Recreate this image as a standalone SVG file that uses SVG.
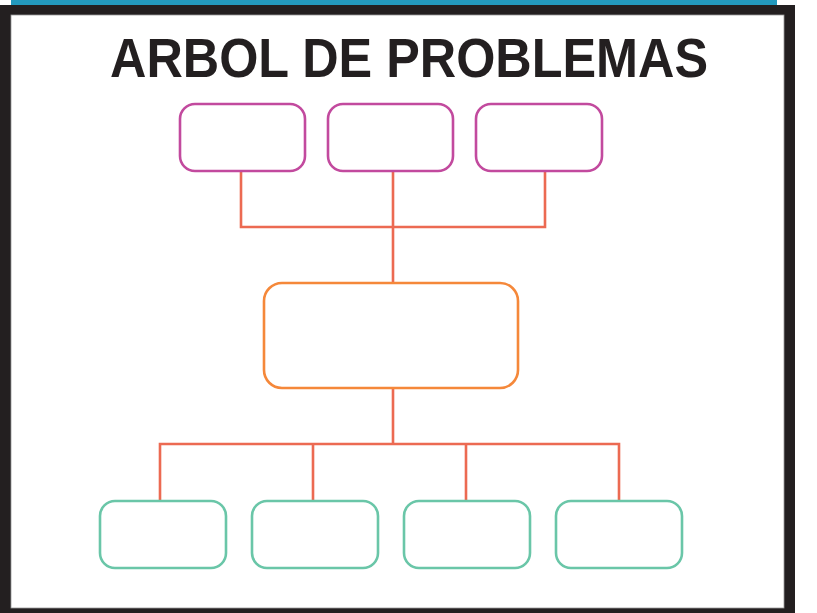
<svg xmlns="http://www.w3.org/2000/svg" width="817" height="613" viewBox="0 0 817 613">
<style>
.top{fill:#fff;stroke:#c24a9e;stroke-width:2.6}
.mid{fill:#fff;stroke:#f5883a;stroke-width:2.6}
.bot{fill:#fff;stroke:#6ac6a8;stroke-width:2.6}
.con{fill:none;stroke:#ec6a52;stroke-width:2.6;stroke-linejoin:miter}
.title{font-family:"Liberation Sans",Arial,sans-serif;font-weight:bold;fill:#231f20}
</style>
<rect x="0" y="0" width="817" height="613" fill="#fff"/>
<rect x="11" y="0" width="766" height="6" fill="#2399bd"/>
<rect x="0" y="5" width="795" height="608" fill="#231f20"/>
<rect x="11" y="15" width="773" height="593" fill="#fff" stroke="#9a9a9a" stroke-width="0.8"/>
<text class="title" x="409" y="77" font-size="56" text-anchor="middle" textLength="598" lengthAdjust="spacingAndGlyphs">ARBOL DE PROBLEMAS</text>
<g id="connectors">
<path class="con" d="M241 172 V227 H545 V172 M393 172 V283"/>
<path class="con" d="M393 388 V444 M160 501 V444 H619 V501 M313 444 V501 M466 444 V501"/>
</g>
<g id="effect1"><rect class="top" x="180" y="104" width="125" height="67" rx="15"/></g>
<g id="effect2"><rect class="top" x="328" y="104" width="125" height="67" rx="15"/></g>
<g id="effect3"><rect class="top" x="476" y="104" width="126" height="67" rx="15"/></g>
<g id="problem"><rect class="mid" x="264" y="283" width="254" height="105" rx="18"/></g>
<g id="cause1"><rect class="bot" x="100" y="501" width="126" height="67" rx="15"/></g>
<g id="cause2"><rect class="bot" x="252" y="501" width="126" height="67" rx="15"/></g>
<g id="cause3"><rect class="bot" x="404" y="501" width="126" height="67" rx="15"/></g>
<g id="cause4"><rect class="bot" x="556" y="501" width="126" height="67" rx="15"/></g>
</svg>
